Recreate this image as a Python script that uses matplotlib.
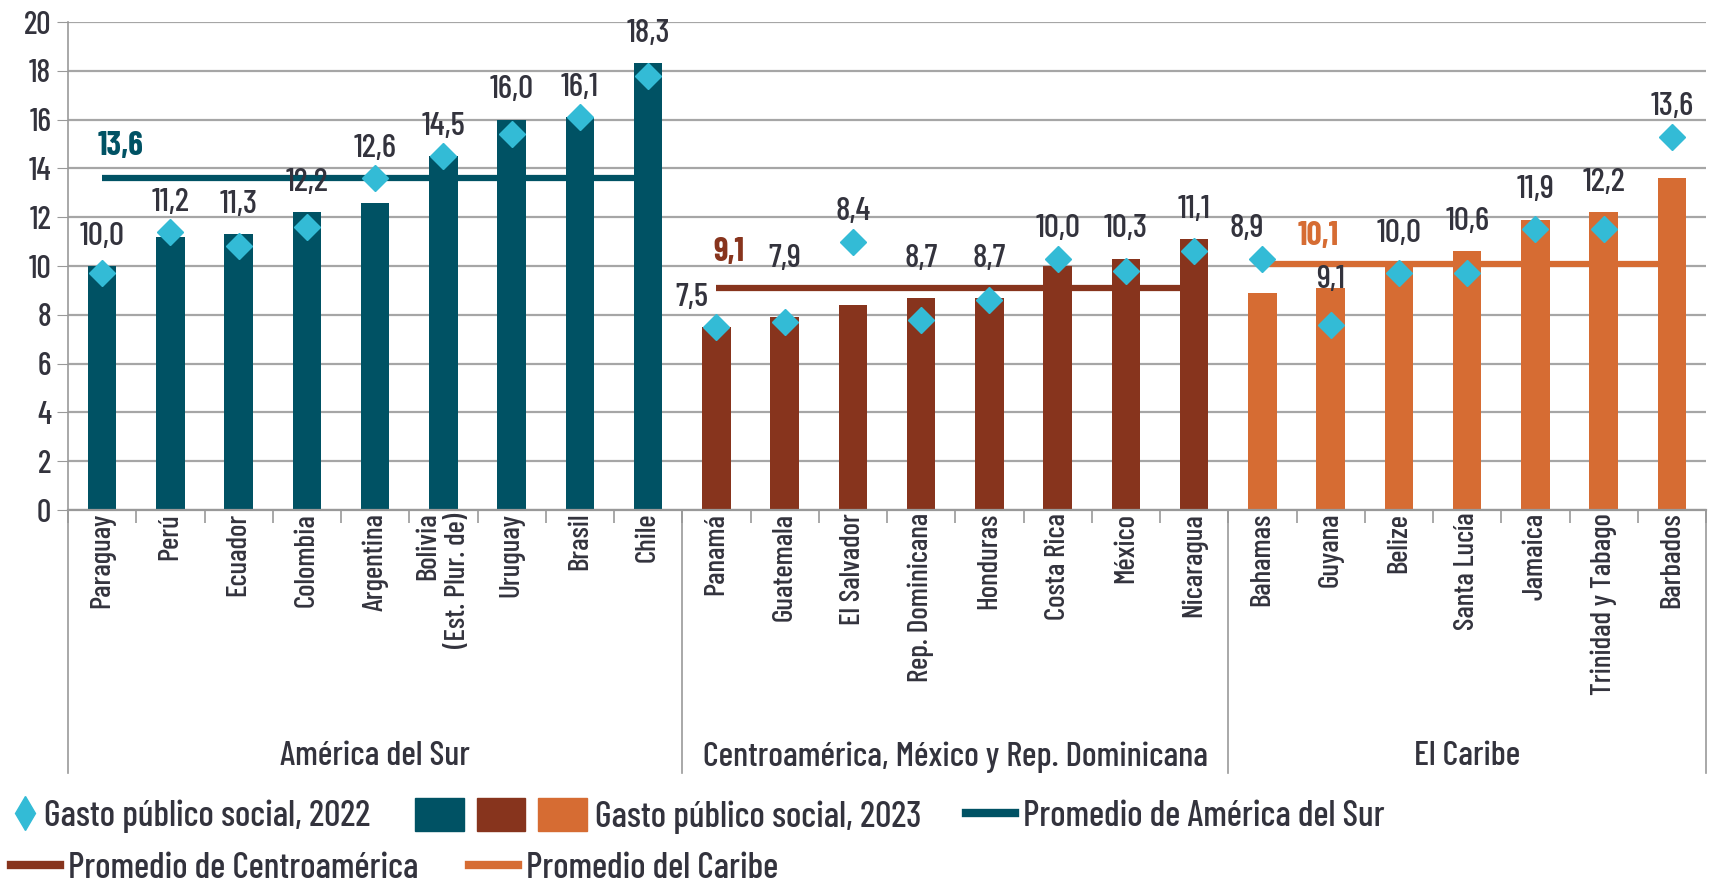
import numpy as np
import matplotlib.pyplot as plt
import matplotlib.transforms as mtransforms
from matplotlib.lines import Line2D
from matplotlib.patches import Patch
from matplotlib.legend_handler import HandlerTuple

plt.rcParams['font.family'] = ['Barlow Condensed', 'DejaVu Sans']
plt.rcParams['font.weight'] = 500

# datos
grupos = ['América del Sur', 'Centroamérica, México y Rep. Dominicana', 'El Caribe']
paises_sur = ['Paraguay', 'Perú', 'Ecuador', 'Colombia', 'Argentina',
              'Bolivia\n(Est. Plur. de)', 'Uruguay', 'Brasil', 'Chile']
paises_centro = ['Panamá', 'Guatemala', 'El Salvador', 'Rep. Dominicana',
                 'Honduras', 'Costa Rica', 'México', 'Nicaragua']
paises_caribe = ['Bahamas', 'Guyana', 'Belize', 'Santa Lucía', 'Jamaica',
                 'Trinidad y Tabago', 'Barbados']

gasto_2023_sur = [10.0, 11.2, 11.3, 12.2, 12.6, 14.5, 16.0, 16.1, 18.3]
gasto_2023_centro = [7.5, 7.9, 8.4, 8.7, 8.7, 10.0, 10.3, 11.1]
gasto_2023_caribe = [8.9, 9.1, 10.0, 10.6, 11.9, 12.2, 13.6]

gasto_2022_sur = [9.7, 11.4, 10.8, 11.6, 13.6, 14.5, 15.4, 16.1, 17.8]
gasto_2022_centro = [7.5, 7.7, 11.0, 7.8, 8.6, 10.3, 9.8, 10.6]
gasto_2022_caribe = [10.3, 7.6, 9.7, 9.7, 11.5, 11.5, 15.3]

promedios = [13.6, 9.1, 10.1]

colores = ['#005264', '#87341d', '#d66c33']
cyan = '#33bbd6'
texto = '#33333d'

# ajustes de etiquetas (puntos)
label_dx = {'Panamá': -18, 'Bahamas': -11}
sin_promedio = ['Panamá', 'Guyana']
sube_promedio = [False, True, True]
avg_label_off = [(13, 12), (9, 15), (40, 9)]

fig = plt.figure(figsize=(17.12, 8.82), dpi=100)
ax = fig.add_axes([68 / 1712, 1 - 510 / 882, 1638 / 1712, 488 / 882])

paises_all = [paises_sur, paises_centro, paises_caribe]
g23_all = [gasto_2023_sur, gasto_2023_centro, gasto_2023_caribe]
g22_all = [gasto_2022_sur, gasto_2022_centro, gasto_2022_caribe]

w = 0.42
pos = 0
labels = []
bounds = [-0.5]
for paises, g23, g22, prom, col, (adx, ady), sube in zip(
        paises_all, g23_all, g22_all, promedios, colores, avg_label_off, sube_promedio):
    x = np.arange(pos, pos + len(paises))
    ax.bar(x, g23, width=w, color=col, zorder=2)
    ax.hlines(prom, x[0], x[-1] - w / 2, color=col, lw=4.5, zorder=3)
    ax.plot(x, g22, ls='', marker='D', ms=13, color=cyan, zorder=4)
    ax.annotate(f'{prom:.1f}'.replace('.', ','), (x[0], prom), xytext=(adx, ady),
                textcoords='offset points', ha='center', va='bottom',
                fontsize=24, fontweight='bold', color=col)
    for xi, p, v23, v22 in zip(x, paises, g23, g22):
        top = max(v23, v22)
        if sube and p not in sin_promedio and xi < x[-1]:
            top = max(top, prom)
        dy = 11
        if p == 'Guyana':
            top, dy = v23, -4
        ax.annotate(f'{v23:.1f}'.replace('.', ','), (xi, top),
                    xytext=(label_dx.get(p, 0), dy), textcoords='offset points',
                    ha='center', va='bottom', fontsize=24, color=texto, zorder=5)
    labels += paises
    pos += len(paises)
    bounds.append(pos - 0.5)

n = len(labels)
ax.set_xlim(-0.5, n - 0.5)
ax.set_ylim(0, 20)
ax.set_yticks(np.arange(0, 21, 2))
ax.tick_params(axis='y', labelsize=23, colors=texto, length=8, color='#999999', pad=4)
ax.set_xticks(np.arange(n))
ax.set_xticklabels(labels, rotation=90, fontsize=21, color=texto, multialignment='right')
ax.set_xticks(np.arange(-0.5, n, 1), minor=True)
ax.tick_params(axis='x', which='major', length=0, pad=2)
ax.tick_params(axis='x', which='minor', length=9, color='#999999', width=1.2)

ax.yaxis.grid(True, color='#a6a6a6', lw=1.6)
ax.set_axisbelow(True)
for s in ['top', 'right']:
    ax.spines[s].set_visible(False)
ax.spines['left'].set_color('#999999')
ax.spines['bottom'].set_color('#999999')
ax.spines['left'].set_linewidth(1.2)
ax.spines['bottom'].set_linewidth(1.6)

# separadores de grupo y nombres
trans = mtransforms.blended_transform_factory(ax.transData, ax.transAxes)
for b in bounds:
    ax.plot([b, b], [0, -0.539], transform=trans, color='#999999', lw=1.2, clip_on=False)
for g, b0, b1 in zip(grupos, bounds[:-1], bounds[1:]):
    ax.text((b0 + b1) / 2, -0.506, g, transform=trans, ha='center', va='center',
            fontsize=25, color=texto)

# leyenda
def legend_item(handle, label, x, y, hl, hh=0.7, handler_map=None):
    leg = fig.legend([handle], [label], loc='center left',
                     bbox_to_anchor=(x / 1712, 1 - y / 882), frameon=False,
                     fontsize=26, handlelength=hl, handleheight=hh,
                     handletextpad=0.22, borderpad=0, borderaxespad=0,
                     handler_map=handler_map, labelcolor=texto)
    return leg

legend_item(Line2D([], [], ls='', marker='d', ms=17, color=cyan),
            'Gasto público social, 2022', 14, 816, 0.62)
cuadros = tuple(Patch(color=c) for c in colores)
legend_item(cuadros, 'Gasto público social, 2023', 415, 816, 4.76, hh=1.05,
            handler_map={tuple: HandlerTuple(ndivide=None, pad=0.36)})
legend_item(Line2D([], [], color=colores[0], lw=6), 'Promedio de América del Sur',
            966, 816, 1.36)
legend_item(Line2D([], [], color=colores[1], lw=6), 'Promedio de Centroamérica',
            11, 868, 1.36)
legend_item(Line2D([], [], color=colores[2], lw=6), 'Promedio del Caribe',
            469, 868, 1.36)

fig.savefig('out.png', dpi=100)
